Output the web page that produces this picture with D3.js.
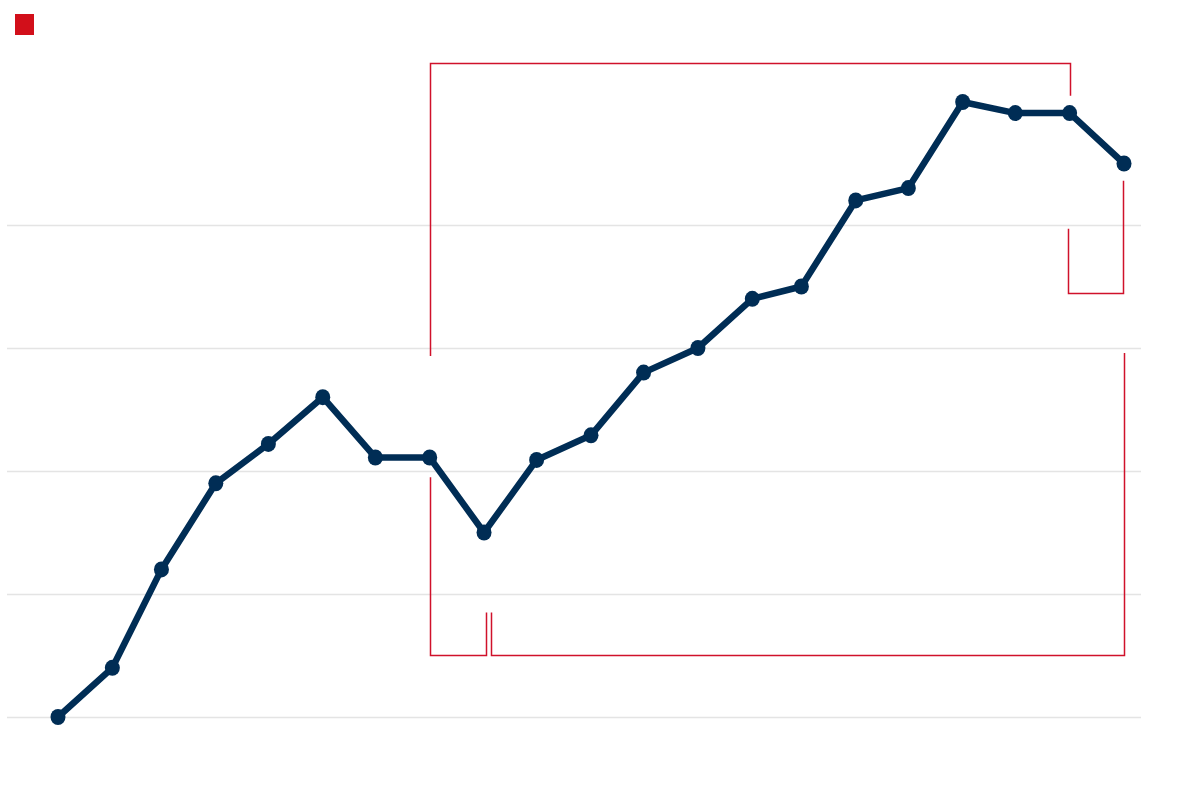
<!DOCTYPE html>
<html>
<head>
<meta charset="utf-8">
<script src="https://cdn.jsdelivr.net/npm/d3@7"></script>
<style>
  body { margin: 0; background: #fff; }
</style>
</head>
<body>
<div id="chart"></div>
<script>
// monthly points, values
var months = d3.timeMonth.range(new Date(2021, 0, 1), new Date(2022, 8, 2))
var values = [0, 4, 12, 19, 22.2, 26, 21.1, 21.1, 15, 20.9, 22.9, 28, 30, 34, 35, 42, 43, 50, 49.1, 49.1, 45]
var gridTicks = [0, 10, 20, 30, 40]

// brackets: from month index, to month index, level of the bar, end of left leg, end of right leg
var bracketFrom  = [7, 7, 8, 19]
var bracketTo    = [19, 8, 20, 20]
var bracketLevel = [53.2, 5.05, 5.05, 34.5]
var bracketLeftEnd  = [29.35, 19.5, 8.5, 39.7]
var bracketRightEnd = [50.5, 8.5, 29.6, 43.6]

var W = 1200, H = 794

var svg = d3.select("#chart")
  .append("svg")
    .attr("width", W)
    .attr("height", H)

var x = d3.scaleTime()
  .domain([months[0], months[months.length - 1]])
  .range([58, 1124])

var y = d3.scaleLinear()
  .domain([0, 50])
  .range([717, 102])

// gridlines
svg.append("g")
  .selectAll("line")
  .data(gridTicks).enter()
  .append("line")
    .attr("x1", 7)
    .attr("x2", 1141)
    .attr("y1", function(d) { return Math.round(y(d)) + 0.5 })
    .attr("y2", function(d) { return Math.round(y(d)) + 0.5 })
    .attr("stroke", "#e4e4e4")
    .attr("stroke-width", 1.5)

// legend square
svg.append("rect")
  .attr("x", 15)
  .attr("y", 14)
  .attr("width", 19)
  .attr("height", 21)
  .attr("fill", "#d20f1a")

// brackets (small pixel nudges so neighbouring legs don't overlap)
var legNudge = [[0, 0], [0, 1.5], [7, 0], [-2, -1]]
var brackets = bracketFrom.map(function(f, i) {
  return { x0: x(months[f]) + legNudge[i][0], x1: x(months[bracketTo[i]]) + legNudge[i][1],
           level: bracketLevel[i], a: bracketLeftEnd[i], b: bracketRightEnd[i] }
})

svg.append("g")
  .selectAll("path")
  .data(brackets).enter()
  .append("path")
    .attr("d", function(d) {
      var x0 = Math.round(d.x0) + 0.5, x1 = Math.round(d.x1) + 0.5
      var yl = Math.round(y(d.level)) + 0.5
      return "M" + x0 + "," + y(d.a) + "V" + yl + "H" + x1 + "V" + y(d.b)
    })
    .attr("fill", "none")
    .attr("stroke", "#d0112b")
    .attr("stroke-width", 1.5)

// line
var line = d3.line()
  .x(function(d, i) { return x(months[i]) })
  .y(function(d) { return y(d) })

svg.append("path")
  .datum(values)
  .attr("d", line)
  .attr("fill", "none")
  .attr("stroke", "#002d55")
  .attr("stroke-width", 6.5)
  .attr("stroke-linejoin", "round")

svg.append("g")
  .selectAll("ellipse")
  .data(values).enter()
  .append("ellipse")
    .attr("cx", function(d, i) { return x(months[i]) })
    .attr("cy", function(d) { return y(d) })
    .attr("rx", 7.5)
    .attr("ry", 8)
    .attr("fill", "#002d55")
</script>
</body>
</html>
